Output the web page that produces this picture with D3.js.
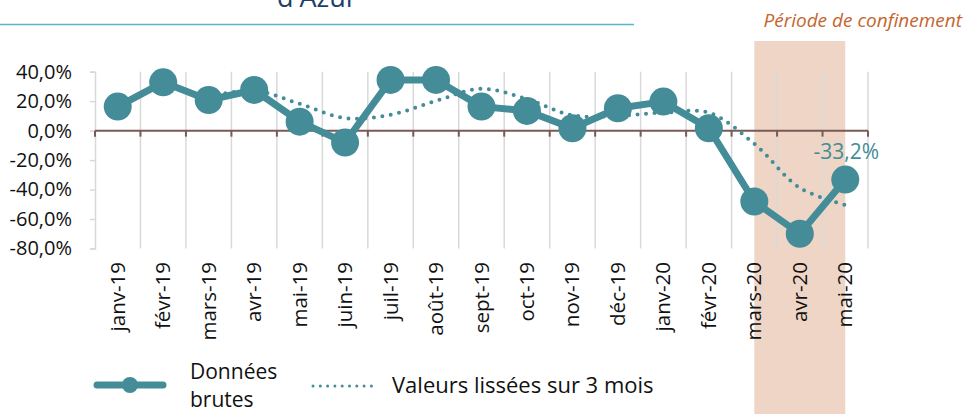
<!DOCTYPE html>
<html>
<head>
<meta charset="utf-8">
<script src="https://cdn.jsdelivr.net/npm/d3@7"></script>
<style>
  body { margin: 0; background: #fff; }
  svg { display: block; font-family: "Open Sans", "Noto Sans", sans-serif; }
</style>
</head>
<body>
<div id="chart"></div>
<script>
const mois = ["janv-19", "févr-19", "mars-19", "avr-19", "mai-19", "juin-19", "juil-19", "août-19",
  "sept-19", "oct-19", "nov-19", "déc-19", "janv-20", "févr-20", "mars-20", "avr-20", "mai-20"];
// données brutes (%)
const brutes = [16.3, 32.8, 20.8, 27.6, 6.1, -8.1, 34.4, 34.4, 16.3, 13.4, 1.6, 15.2, 19.7, 1.6, -48.1, -70.0, -33.2];
// valeurs lissées sur 3 mois (%), à partir de mars-19
const lissees = [null, null, 23.3, 27.1, 18.2, 8.5, 10.8, 20.2, 28.4, 21.4, 10.4, 10.1, 12.2, 12.2, -8.9, -38.8, -50.4];
const yTicks = [40, 20, 0, -20, -40, -60, -80];
const confinement = ["mars-20", "mai-20"];

const W = 964, H = 414;
const teal = "#438c98";

const svg = d3.select("#chart").append("svg")
  .attr("width", W).attr("height", H);

const x = d3.scaleBand().domain(mois).range([95, 868]).padding(0);
const y = d3.scaleLinear().domain([-80, 40]).range([248.5, 71.7]);
const fmt = v => d3.format(".1f")(v).replace(".", ",").replace("−", "-") + "%";

// titre coupé + filet
svg.append("text")
  .attr("x", 317).attr("y", 7)
  .attr("text-anchor", "middle")
  .attr("fill", "#1f3f66")
  .style("font-size", "27px")
  .text("d'Azur");
svg.append("line")
  .attr("x1", 0).attr("x2", 634).attr("y1", 24.5).attr("y2", 24.5)
  .attr("stroke", "#5ab4d0").attr("stroke-width", 1.5);

// période de confinement
const x0 = x(confinement[0]) + x.bandwidth() * 0.5;
const x1 = x(confinement[1]) + x.bandwidth() * 0.5;
svg.append("rect")
  .attr("x", x0).attr("y", 41).attr("width", x1 - x0).attr("height", H - 41)
  .attr("fill", "#efd5c6");
svg.append("text")
  .attr("x", 962).attr("y", 27)
  .attr("text-anchor", "end")
  .attr("fill", "#c5652e")
  .style("font-size", "19px").style("font-style", "italic")
  .text("Période de confinement");

// grille verticale
const bornes = mois.map(m => x(m)).concat([x.range()[1]]);
svg.append("g").selectAll("line")
  .data(bornes.slice(1))
  .join("line")
  .attr("x1", d => d).attr("x2", d => d)
  .attr("y1", y(40)).attr("y2", y(-80))
  .attr("stroke", "#d9d9d9").attr("stroke-width", 1.5);

// axe Y
const yAxis = svg.append("g")
  .attr("transform", `translate(${x.range()[0]},0)`)
  .call(d3.axisLeft(y).tickValues(yTicks).tickFormat(fmt).tickSize(5).tickPadding(18));
yAxis.select(".domain").attr("stroke", "#d9d9d9").attr("stroke-width", 1.5);
yAxis.selectAll(".tick line").attr("stroke", "#d9d9d9").attr("stroke-width", 1.5);
yAxis.selectAll("text").attr("fill", "#111").style("font-size", "20px")
  .style("font-family", "'Open Sans', sans-serif");

// axe zéro
svg.append("line")
  .attr("x1", x.range()[0]).attr("x2", x.range()[1])
  .attr("y1", y(0)).attr("y2", y(0))
  .attr("stroke", "#7a5a55").attr("stroke-width", 2);
svg.append("g").selectAll("line")
  .data(bornes)
  .join("line")
  .attr("x1", d => d).attr("x2", d => d)
  .attr("y1", y(0)).attr("y2", y(0) + 6)
  .attr("stroke", "#7a5a55").attr("stroke-width", 2);

// étiquettes des mois
svg.append("g").selectAll("text")
  .data(mois)
  .join("text")
  .attr("transform", d => `translate(${x(d) + x.bandwidth() / 2 + 7},262) rotate(-90)`)
  .attr("text-anchor", "end")
  .attr("fill", "#111")
  .style("font-size", "20.5px")
  .text(d => d);

// série lissée
const ligneLissee = d3.line()
  .defined(d => d.v !== null)
  .x(d => x(d.m) + x.bandwidth() / 2)
  .y(d => y(d.v))
  .curve(d3.curveCatmullRom.alpha(0.5));
svg.append("path")
  .datum(mois.map((m, i) => ({ m, v: lissees[i] })))
  .attr("fill", "none")
  .attr("stroke", teal)
  .attr("stroke-width", 4)
  .attr("stroke-linecap", "round")
  .attr("stroke-dasharray", "0 8.5")
  .attr("d", ligneLissee);

// série brute
const ligneBrute = d3.line()
  .x(d => x(d.m) + x.bandwidth() / 2)
  .y(d => y(d.v));
const pts = mois.map((m, i) => ({ m, v: brutes[i] }));
svg.append("path")
  .datum(pts)
  .attr("fill", "none")
  .attr("stroke", teal)
  .attr("stroke-width", 7)
  .attr("stroke-linejoin", "round")
  .attr("d", ligneBrute);
svg.append("g").selectAll("circle")
  .data(pts)
  .join("circle")
  .attr("cx", d => x(d.m) + x.bandwidth() / 2)
  .attr("cy", d => y(d.v))
  .attr("r", 14)
  .attr("fill", teal);

// étiquette dernière valeur
const dernier = pts[pts.length - 1];
svg.append("text")
  .attr("x", x(dernier.m) + x.bandwidth() / 2 + 1)
  .attr("y", y(dernier.v) - 21)
  .attr("text-anchor", "middle")
  .attr("fill", teal)
  .style("font-size", "21px")
  .text(fmt(dernier.v));

// légende
const leg = svg.append("g");
leg.append("line")
  .attr("x1", 97).attr("x2", 163).attr("y1", 385).attr("y2", 385)
  .attr("stroke", teal).attr("stroke-width", 7).attr("stroke-linecap", "round");
leg.append("circle").attr("cx", 130).attr("cy", 385).attr("r", 8).attr("fill", teal);
leg.append("text").attr("x", 190).attr("y", 379)
  .attr("fill", "#111").style("font-size", "21px").text("Données");
leg.append("text").attr("x", 190).attr("y", 407)
  .attr("fill", "#111").style("font-size", "21px").text("brutes");
leg.append("line")
  .attr("x1", 313).attr("x2", 372).attr("y1", 386).attr("y2", 386)
  .attr("stroke", teal).attr("stroke-width", 3)
  .attr("stroke-linecap", "round").attr("stroke-dasharray", "0 7.3");
leg.append("text").attr("x", 392).attr("y", 393)
  .attr("fill", "#111").style("font-size", "22px").text("Valeurs lissées sur 3 mois");
</script>
</body>
</html>
